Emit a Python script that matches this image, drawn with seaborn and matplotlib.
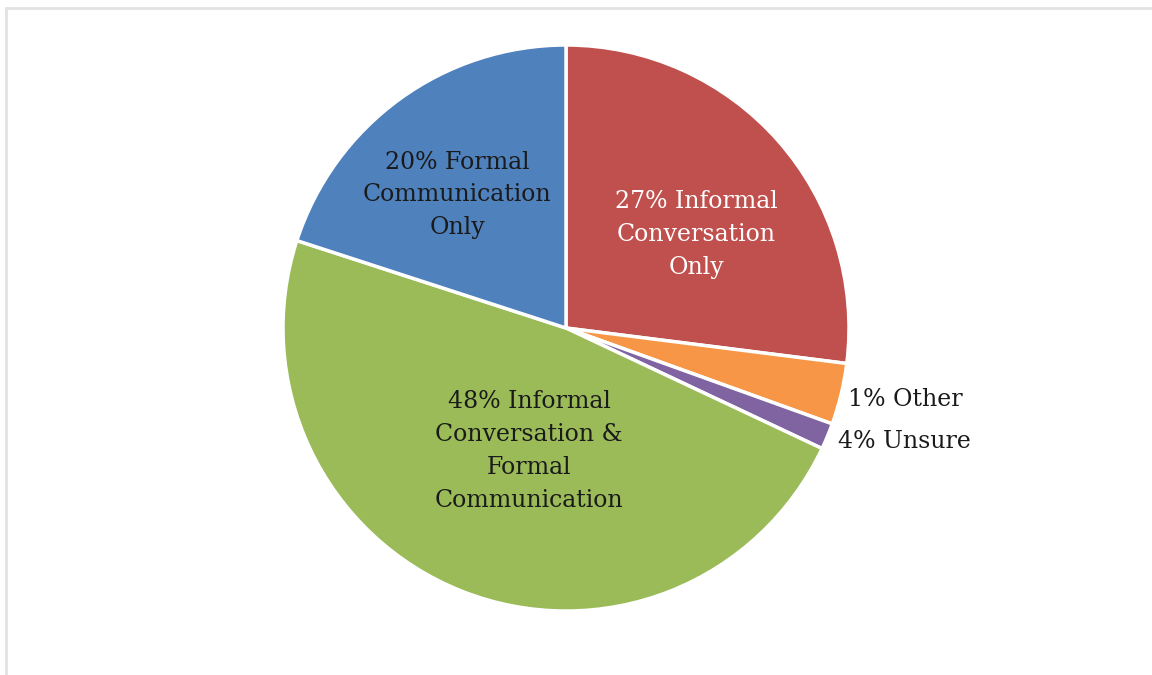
import matplotlib
matplotlib.use("Agg")
import matplotlib.pyplot as plt
import seaborn as sns
from matplotlib.patches import Rectangle

sns.set_theme(style="white")
plt.rcParams['font.family'] = ['DejaVu Serif']

categories = ["Informal Conversation Only", "Other", "Unsure",
              "Informal Conversation & Formal Communication", "Formal Communication Only"]
values = [27, 3.5, 1.5, 48, 20]
labels = ["27% Informal\nConversation\nOnly", "1% Other", "4% Unsure",
          "48% Informal\nConversation &\nFormal\nCommunication", "20% Formal\nCommunication\nOnly"]
colors = sns.color_palette(["#C0504D", "#F79646", "#8064A2", "#9BBB59", "#4F81BD"])

fig = plt.figure(figsize=(11.52, 6.75), dpi=100)
fig.patch.set_facecolor("white")
ax = fig.add_axes([0, 0, 1, 1])
ax.pie(values, colors=colors, startangle=90, counterclock=False, radius=1.0,
       wedgeprops=dict(edgecolor="white", linewidth=2.5))
ax.set_xlim(-2.0, 2.0707)
ax.set_ylim(-1.226, 1.159)
ax.set_aspect("auto")
ax.axis("off")

fs = 17
ls = 1.55
ax.text(0.46, 0.33, labels[0], ha="center", va="center", fontsize=fs, color="white", linespacing=ls)
ax.text(0.996, -0.254, labels[1], ha="left", va="center", fontsize=fs, color="#1a1a1a")
ax.text(0.961, -0.40, labels[2], ha="left", va="center", fontsize=fs, color="#1a1a1a")
ax.text(-0.13, -0.435, labels[3], ha="center", va="center", fontsize=fs, color="#1a1a1a", linespacing=ls)
ax.text(-0.385, 0.47, labels[4], ha="center", va="center", fontsize=fs, color="#1a1a1a", linespacing=ls)

# light frame (top and left edges visible)
fig.patches.append(Rectangle((6/1152, -0.05), 1.2, (675 - 8)/675 + 0.05, transform=fig.transFigure,
                             fill=False, edgecolor="#e2e2e2", linewidth=2))

fig.savefig("out.png", dpi=100, facecolor="white")
